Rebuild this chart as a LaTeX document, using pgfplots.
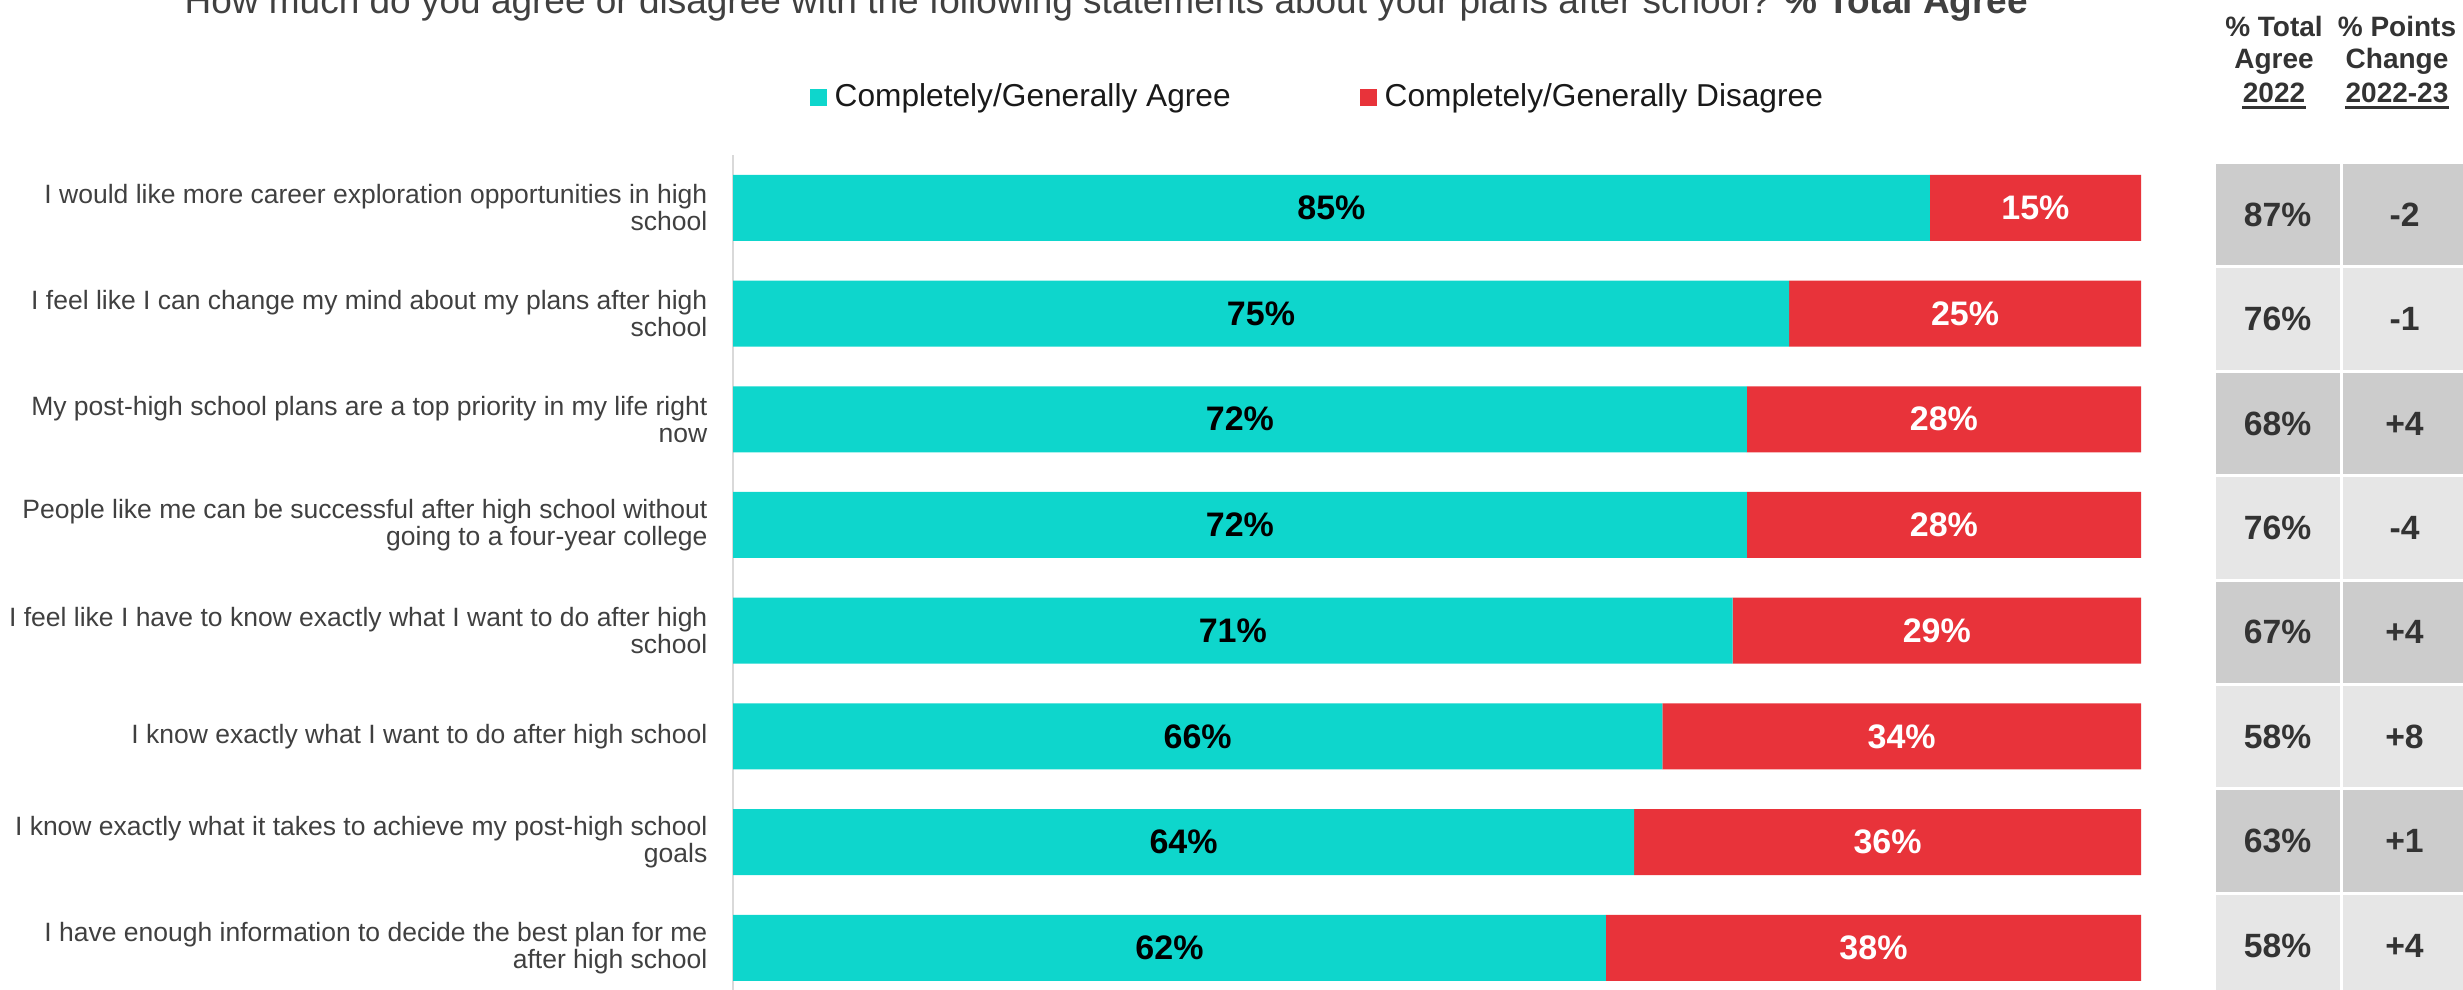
\documentclass[border=0pt]{standalone}
\usepackage{fontspec}
\setmainfont{Liberation Sans}
\usepackage{pgfplots}
\usepackage{pgfplotstable}
\pgfplotsset{compat=1.18}

\definecolor{agree}{RGB}{14,214,204}
\definecolor{disagree}{RGB}{232,51,58}
\definecolor{celldark}{RGB}{204,204,204}
\definecolor{celllight}{RGB}{230,230,230}
\definecolor{txt}{RGB}{64,64,64}
\definecolor{hdr}{RGB}{51,51,51}

% agree / disagree shares, rows from top to bottom
\pgfplotstableread{
row agree disagree
0 85 15
1 75 25
2 72 28
3 72 28
4 71 29
5 66 34
6 64 36
7 62 38
}\bars

% side table: % total agree 2022 and change 2022-23
\pgfplotstableread{
row total change
0 87\% -2
2 68\% +4
4 67\% +4
6 63\% +1
}\darkrows
\pgfplotstableread{
row total change
1 76\% -1
3 76\% -4
5 58\% +8
7 58\% +4
}\lightrows

\tikzset{
  cell/.style={minimum width=37.2pt, minimum height=30.45pt, inner sep=0pt, anchor=center,
    text=hdr, font=\bfseries\fontsize{10.1}{11}\selectfont},
  hd/.style={anchor=base, inner sep=0pt, text=hdr, font=\bfseries\fontsize{8.4}{9.9}\selectfont},
}

\begin{document}
\begin{tikzpicture}[x=1pt,y=1pt]

% title (cut at the top edge as in the source)
\node[anchor=base west, inner sep=0pt, text=txt, font=\fontsize{11.1}{13}\selectfont]
  at (55.2,-4.2) {How much do you agree or disagree with the following statements about your plans after school? \textbf{\% Total Agree}};

\begin{axis}[
  at={(219.9pt,-46.5pt)}, anchor=north west,
  scale only axis, width=422.4pt, height=253.68pt,
  xbar stacked, bar width=0.6244,
  xmin=0, xmax=100, ymin=-0.5, ymax=7.5, y dir=reverse,
  enlargelimits=false,
  hide x axis,
  axis y line*=left,
  y axis line style={-, draw=black!15, line width=0.6pt},
  ytick={0,...,7},
  major tick length=0pt,
  yticklabels={
    {I would like more career exploration opportunities in high\\school},
    {I feel like I can change my mind about my plans after high\\school},
    {My post-high school plans are a top priority in my life right\\now},
    {People like me can be successful after high school without\\going to a four-year college},
    {I feel like I have to know exactly what I want to do after high\\school},
    {I know exactly what I want to do after high school},
    {I know exactly what it takes to achieve my post-high school\\goals},
    {I have enough information to decide the best plan for me\\after high school}},
  yticklabel style={align=right, font=\fontsize{7.95}{8.1}\selectfont, text=txt, inner sep=0pt, xshift=-7.5pt},
  every axis plot post/.append style={
    legend image code/.code={\fill[##1, draw=none] (0pt,-2.55pt) rectangle (5.1pt,2.55pt);}},
  legend columns=2,
  legend style={draw=none, fill=none, inner sep=0pt, at={(0.054,1.068)}, anchor=west,
    font=\fontsize{9.5}{11}\selectfont, text=black!90, nodes={inner sep=0pt},
    cells={anchor=west},
    /tikz/every odd column/.append style={column sep=2.4pt},
    /tikz/every even column/.append style={column sep=38.7pt}},
]
\addplot[fill=agree, draw=none] table[x=agree, y=row] {\bars};
\addplot[fill=disagree, draw=none] table[x=disagree, y=row] {\bars};
\legend{Completely/Generally Agree, Completely/Generally Disagree}
\end{axis}

% segment labels, same geometry as the bar axis
\begin{axis}[
  at={(219.9pt,-46.5pt)}, anchor=north west,
  scale only axis, width=422.4pt, height=253.68pt,
  xmin=0, xmax=100, ymin=-0.5, ymax=7.5, y dir=reverse,
  enlargelimits=false, hide axis, clip=false,
  every node near coord/.append style={anchor=center, font=\bfseries\fontsize{10.2}{11}\selectfont},
]
\addplot[only marks, mark=none, point meta=explicit symbolic,
  nodes near coords={\pgfplotspointmeta\%},
  every node near coord/.append style={text=black, anchor=center}]
  table[x expr=\thisrow{agree}/2, y=row, meta=agree] {\bars};
\addplot[only marks, mark=none, point meta=explicit symbolic,
  nodes near coords={\pgfplotspointmeta\%},
  every node near coord/.append style={text=white, anchor=center}]
  table[x expr=\thisrow{agree}+\thisrow{disagree}/2, y=row, meta=disagree] {\bars};
\end{axis}

% side table
\begin{axis}[
  at={(664.2pt,-48.75pt)}, anchor=north west,
  scale only axis, width=76.2pt, height=250.56pt,
  xmin=0, xmax=2, ymin=-0.5, ymax=7.5, y dir=reverse,
  enlargelimits=false, hide axis, clip=false,
]
\addplot[only marks, mark=none, point meta=explicit symbolic, nodes near coords,
  every node near coord/.append style={cell, fill=celldark}]
  table[x expr=0.5, y=row, meta=total] {\darkrows};
\addplot[only marks, mark=none, point meta=explicit symbolic, nodes near coords,
  every node near coord/.append style={cell, fill=celldark}]
  table[x expr=1.5, y=row, meta=change] {\darkrows};
\addplot[only marks, mark=none, point meta=explicit symbolic, nodes near coords,
  every node near coord/.append style={cell, fill=celllight}]
  table[x expr=0.5, y=row, meta=total] {\lightrows};
\addplot[only marks, mark=none, point meta=explicit symbolic, nodes near coords,
  every node near coord/.append style={cell, fill=celllight}]
  table[x expr=1.5, y=row, meta=change] {\lightrows};
\end{axis}

% side table header
\node[hd] at (682.2,-10.8) {\% Total};
\node[hd] at (682.2,-20.4) {Agree};
\node[hd] (u1) at (682.2,-30.6) {2022};
\draw[hdr, line width=0.75pt] ([yshift=-1.6pt]u1.base west) -- ([yshift=-1.6pt]u1.base east);
\node[hd] at (719.1,-10.8) {\% Points};
\node[hd] at (719.1,-20.4) {Change};
\node[hd] (u2) at (719.1,-30.6) {2022-23};
\draw[hdr, line width=0.75pt] ([yshift=-1.6pt]u2.base west) -- ([yshift=-1.6pt]u2.base east);

\pgfresetboundingbox
\useasboundingbox (0,0) rectangle (738.9,-297);
\end{tikzpicture}
\end{document}
